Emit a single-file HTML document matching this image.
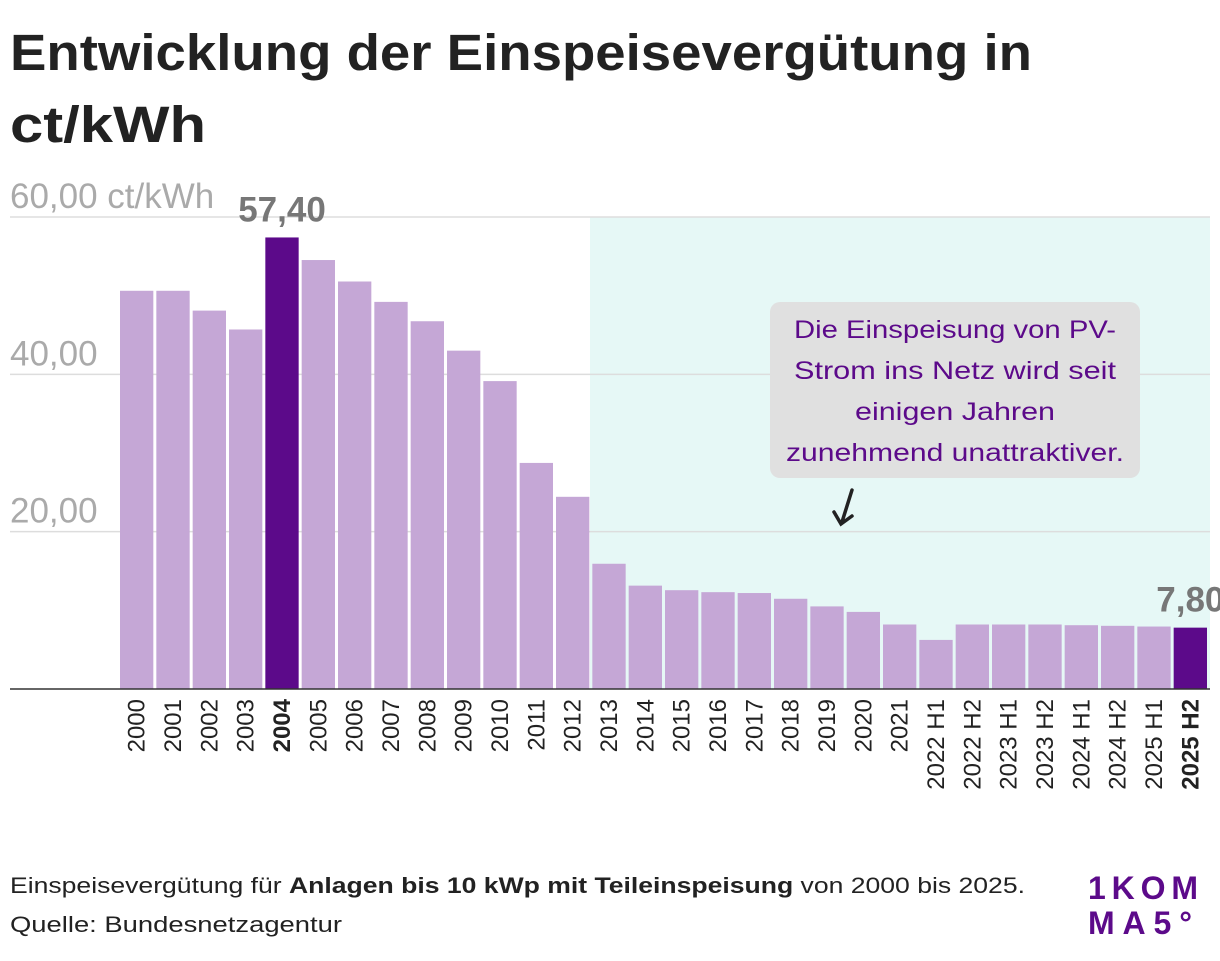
<!DOCTYPE html>
<html><head><meta charset="utf-8"><style>
body{margin:0;background:#fff;font-family:"Liberation Sans",sans-serif;}
svg text{font-family:"Liberation Sans",sans-serif;}
</style></head><body>
<svg width="1220" height="956" viewBox="0 0 1220 956">
<text x="10" y="70" font-size="51" font-weight="bold" fill="#222" textLength="1022" lengthAdjust="spacingAndGlyphs">Entwicklung der Einspeisevergütung in</text>
<text x="10" y="142" font-size="51" font-weight="bold" fill="#222" textLength="196" lengthAdjust="spacingAndGlyphs">ct/kWh</text>
<rect x="590" y="217" width="620" height="472" fill="#e6f8f6"/>
<g id="grid"></g>
<g id="bars"></g>
<line x1="10" y1="689" x2="1210" y2="689" stroke="#333" stroke-width="1.5"/>
<g id="xlabels"></g>
<g>
<rect x="770" y="302" width="370" height="176" rx="10" fill="#e0e0e0"/>
<text x="955" y="338" font-size="25" fill="#5c0a8a" text-anchor="middle" textLength="322" lengthAdjust="spacingAndGlyphs">Die Einspeisung von PV-</text>
<text x="955" y="379" font-size="25" fill="#5c0a8a" text-anchor="middle" textLength="322" lengthAdjust="spacingAndGlyphs">Strom ins Netz wird seit</text>
<text x="955" y="420" font-size="25" fill="#5c0a8a" text-anchor="middle" textLength="200" lengthAdjust="spacingAndGlyphs">einigen Jahren</text>
<text x="955" y="461" font-size="25" fill="#5c0a8a" text-anchor="middle" textLength="338" lengthAdjust="spacingAndGlyphs">zunehmend unattraktiver.</text>
<path d="M852 490 L842 522 M834 512 L841 524 L852 516" stroke="#222" stroke-width="3.5" fill="none" stroke-linecap="round"/>
</g>
<text x="10" y="893" font-size="22" fill="#222" textLength="1015" lengthAdjust="spacingAndGlyphs">Einspeisevergütung für <tspan font-weight="bold">Anlagen bis 10 kWp mit Teileinspeisung</tspan> von 2000 bis 2025.</text>
<text x="10" y="932" font-size="22" fill="#222" textLength="332" lengthAdjust="spacingAndGlyphs">Quelle: Bundesnetzagentur</text>
<g fill="#5c0a8a" font-weight="bold" font-size="32">
<text x="1088" y="899" textLength="110" lengthAdjust="spacing">1KOM</text>
<text x="1088" y="934" textLength="104" lengthAdjust="spacing">MA5°</text>
</g>
</svg>
<script>
const categories=["2000","2001","2002","2003","2004","2005","2006","2007","2008","2009","2010","2011","2012","2013","2014","2015","2016","2017","2018","2019","2020","2021","2022 H1","2022 H2","2023 H1","2023 H2","2024 H1","2024 H2","2025 H1","2025 H2"];
const values=[50.62,50.62,48.1,45.7,57.40,54.53,51.8,49.21,46.75,43.01,39.14,28.74,24.43,15.92,13.14,12.56,12.31,12.2,11.47,10.5,9.8,8.2,6.24,8.2,8.2,8.2,8.11,8.03,7.94,7.8];
const highlighted=["2004","2025 H2"];
const ticks=[20,40,60];
const tickLabels=["20,00","40,00","60,00 ct/kWh"];
const NS="http://www.w3.org/2000/svg";
const x0=120,x1=1210,base=689,scale=(689-217)/60;
const pitch=(x1-x0)/categories.length;
const y=v=>base-v*scale;
const grid=document.getElementById('grid'),bars=document.getElementById('bars'),xl=document.getElementById('xlabels');
function mk(t,a){const e=document.createElementNS(NS,t);for(const k in a)e.setAttribute(k,a[k]);return e;}
ticks.forEach((t,i)=>{
const l=mk('line',{x1:10,x2:1210,y1:y(t),y2:y(t),stroke:'#ddd','stroke-width':1.5});


grid.appendChild(l);
const tx=mk('text',{x:10,y:y(t)-9,'font-size':35,fill:'#aaa'});
tx.textContent=tickLabels[i];


grid.appendChild(tx);
});
categories.forEach((c,i)=>{
const hl=highlighted.includes(c);
const bx=x0+i*pitch;
const r=mk('rect',{x:bx,y:y(values[i]),width:pitch-3,height:values[i]*scale,fill:hl?'#5c0a8a':'#c5a7d6'});


bars.appendChild(r);
const cx=bx+(pitch-3)/2;
const t=mk('text',{x:0,y:0,'font-size':24,fill:'#222','text-anchor':'end',transform:`translate(${cx+8},${base+10}) rotate(-90)`});
if(hl)t.setAttribute('font-weight','bold');
t.textContent=c;


xl.appendChild(t);
if(hl){
const v=mk('text',{x:cx,y:y(values[i])-16,'font-size':35,'font-weight':'bold',fill:'#777','text-anchor':'middle'});
v.textContent=values[i].toFixed(2).replace('.',',');


bars.appendChild(v);
}
});
</script>
</body></html>
